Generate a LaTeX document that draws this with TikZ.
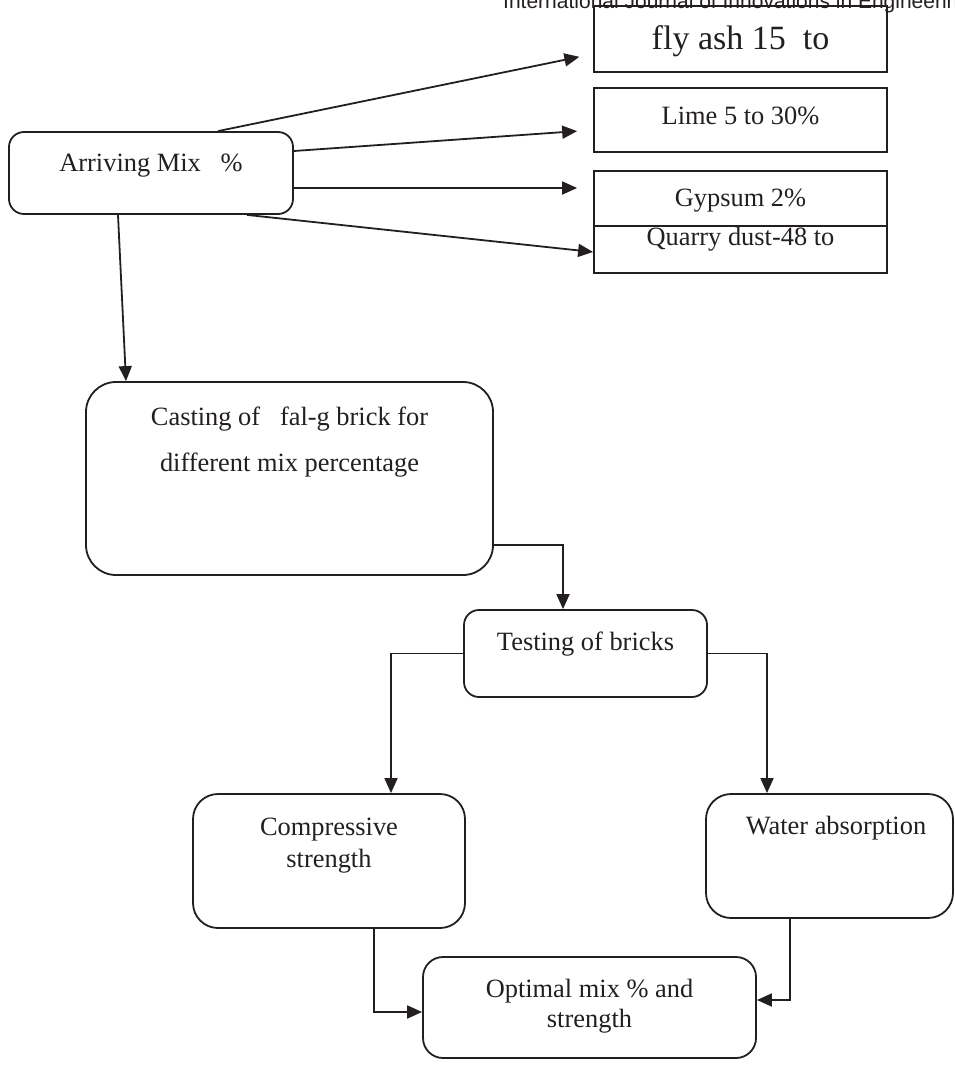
\documentclass[tikz,border=0pt]{standalone}
\usepackage{fontspec}
\setmainfont{Liberation Serif}
\newfontfamily\headfont{Liberation Sans}
\usetikzlibrary{arrows.meta}
\definecolor{ink}{HTML}{231F20}
\begin{document}
\begin{tikzpicture}[x=1pt,y=-1pt,
  every node/.style={inner sep=0pt, text=ink},
  boxbase/.style={draw=ink, line width=1.8pt, anchor=center, font=\fontsize{26.4}{31}\selectfont},
  sqbox/.style={boxbase},
  rbox/.style={boxbase, rounded corners=#1},
  arw/.style={draw=ink, line width=1.8pt, -{Triangle[length=15pt,width=13pt]}},
  wire/.style={draw=ink, line width=1.8pt}
]
\useasboundingbox (0,0) rectangle (955,1076);

% header (clipped by page edge, as in the reference)
\node[anchor=base west, font=\headfont\fontsize{21}{24}\selectfont] (hdr) at (503,9)
  {International Journal of Innovations in Engineering Research and Technology};

% right-hand component boxes
\node[sqbox, minimum width=293pt, minimum height=66pt, text height=20pt, text depth=0pt,
      font=\fontsize{34}{40}\selectfont] (fly) at (740.5,39) {fly ash 15\ \ to};
\node[sqbox, minimum width=293pt, minimum height=64pt, text height=8pt, text depth=0pt] (lime) at (740.5,120) {Lime 5 to 30\%};
\node[sqbox, minimum width=293pt, minimum height=55pt, text height=15pt, text depth=0pt] (gyp) at (740.5,198.5) {Gypsum 2\%};
\node[sqbox, minimum width=293pt, minimum height=47pt, text height=0pt, text depth=9pt] (quarry) at (740.5,249.5) {Quarry dust-48 to};

% main flow boxes
\node[rbox=15pt, minimum width=284pt, minimum height=82pt, text height=0pt, text depth=4pt] (arr) at (151,173) {Arriving Mix\ \ \ \%};
\node[rbox=30pt, minimum width=407pt, minimum height=193pt, text height=0pt, text depth=107pt,
      text width=380pt, align=flush center, font=\fontsize{26.4}{46}\selectfont] (cast) at (289.5,478.5)
  {Casting of\ \ \ fal-g brick for\\different mix percentage};
\node[rbox=15pt, minimum width=243pt, minimum height=87pt, text height=0pt, text depth=7pt] (test) at (585.5,653.5) {Testing of bricks};
\node[rbox=25pt, minimum width=272pt, minimum height=134pt, text height=0pt, text depth=52pt,
      text width=250pt, align=flush center, font=\fontsize{26.4}{32}\selectfont] (comp) at (329,861)
  {Compressive\\strength};
\node[rbox=25pt, minimum width=247pt, minimum height=124pt, text height=0pt, text depth=44pt] (water) at (829.5,856) {\hspace*{13pt}Water absorption};
\node[rbox=20pt, minimum width=333pt, minimum height=101pt, text height=0pt, text depth=21pt,
      text width=310pt, align=flush center, font=\fontsize{26.4}{30}\selectfont] (opt) at (589.5,1007.5)
  {Optimal mix \% and\\strength};

% connectors from the mix box
\draw[arw, shorten >=14pt] ([xshift=67pt]arr.north) -- ([yshift=-15pt]fly.west);
\draw[arw, shorten >=16pt] ([yshift=22pt]arr.east) -- ([yshift=-10pt]lime.west);
\draw[arw, shorten >=16pt] ([yshift=-15pt]arr.east) -- ([yshift=10.5pt]gyp.west);
\draw[arw] ([xshift=96pt]arr.south) -- ([yshift=-2.5pt]quarry.west);
\draw[arw] ([xshift=-33pt]arr.south) -- ([xshift=-163.5pt]cast.north);

% flow
\draw[arw] ([yshift=-66.5pt]cast.east) -| ([xshift=-22.5pt]test.north);
\draw[arw] (test.west) -| ([xshift=62pt]comp.north);
\draw[arw] (test.east) -| ([xshift=-62.5pt]water.north);
\draw[arw] ([xshift=45pt]comp.south) |- ([yshift=-4.5pt]opt.west);
\draw[arw] ([xshift=-39.5pt]water.south) |- ([yshift=7.5pt]opt.east);
\end{tikzpicture}
\end{document}
